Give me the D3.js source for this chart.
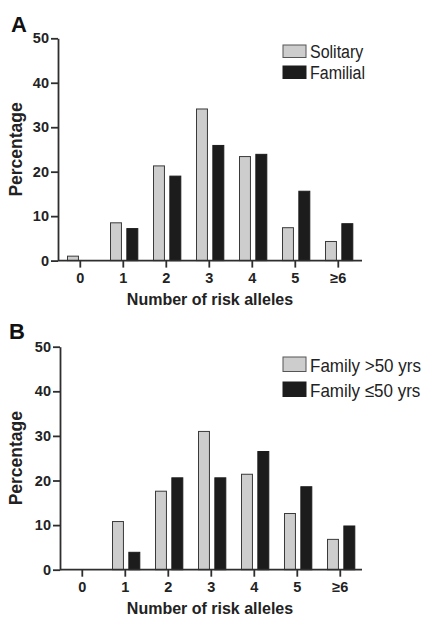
<!DOCTYPE html>
<html>
<head>
<meta charset="utf-8">
<script src="https://cdn.jsdelivr.net/npm/d3@7"></script>
<style>
  body { margin: 0; background: #fff; }
  svg { font-family: "Liberation Sans", Arial, Helvetica, sans-serif; }
</style>
</head>
<body>
<div id="vis"></div>
<script>
/********************************************************************
Datos
*********************************************************************/
const categories = ["0", "1", "2", "3", "4", "5", "\u22656"];
const yTicks = [0, 10, 20, 30, 40, 50];

// Panel A
const seriesA = ["Solitary", "Familial"];
const solitary = [1.0, 8.5, 21.3, 34.1, 23.4, 7.4, 4.3];
const familial = [0, 7.2, 19.0, 25.9, 23.9, 15.6, 8.3];

// Panel B
const seriesB = ["Family >50 yrs", "Family \u226450 yrs"];
const familyOver50 = [0, 10.8, 17.6, 31.0, 21.4, 12.6, 6.8];
const familyUnder50 = [0, 3.9, 20.6, 20.6, 26.5, 18.6, 9.8];

/********************************************************************
Constantes de tamaño
*********************************************************************/
const WIDTH = 423;
const HEIGHT = 618;
const colors = ["#cdcdcd", "#1c1c1c"];
const axisColor = "#2e2e2e";

const svg = d3.select("#vis")
    .append("svg")
    .attr("width", WIDTH)
    .attr("height", HEIGHT);

/********************************************************************
Funciones
*********************************************************************/
function drawPanel(cfg) {
    const g = svg.append("g");

    const y = d3.scaleLinear()
        .domain([0, 50])
        .range([cfg.bottom, cfg.top]);

    const x0 = d3.scaleBand()
        .domain(categories)
        .range([cfg.left + 0.8, cfg.left + 0.8 + 301]);

    const x1 = d3.scaleBand()
        .domain(cfg.series)
        .range([-12.8, 14.5])
        .paddingInner(0.33);

    // barras
    const rows = categories.map((c, i) => ({
        cat: c,
        vals: cfg.series.map((s, j) => ({ key: s, idx: j, value: cfg.values[j][i] }))
    }));

    g.selectAll(".cat")
        .data(rows)
        .enter()
        .append("g")
        .attr("transform", d => `translate(${x0(d.cat) + x0.bandwidth() / 2},0)`)
        .selectAll("rect")
        .data(d => d.vals.filter(v => v.value > 0))
        .enter()
        .append("rect")
        .attr("x", d => x1(d.key))
        .attr("width", x1.bandwidth())
        .attr("y", d => y(d.value))
        .attr("height", d => y(0) - y(d.value))
        .attr("fill", d => colors[d.idx])
        .attr("stroke", d => d.idx === 0 ? "#3a3a3a" : "#1c1c1c")
        .attr("stroke-width", 1);

    // eje y
    const yAxis = g.append("g")
        .attr("transform", `translate(${cfg.left},0)`)
        .call(d3.axisLeft(y).tickValues(yTicks).tickSize(7).tickSizeOuter(0).tickPadding(2));

    // eje x
    const xAxis = g.append("g")
        .attr("transform", `translate(0,${cfg.bottom})`)
        .call(d3.axisBottom(x0).tickSize(7).tickSizeOuter(0).tickPadding(5));
    xAxis.select(".domain").remove();
    xAxis.append("line")
        .attr("x1", cfg.left)
        .attr("x2", 362)
        .attr("y1", 0)
        .attr("y2", 0)
        .attr("stroke", axisColor)
        .attr("stroke-width", 1.8);

    [yAxis, xAxis].forEach(a => {
        a.selectAll("path, line").attr("stroke", axisColor).attr("stroke-width", 1.8);
        a.selectAll("text")
            .attr("fill", "#222")
            .style("font-size", "14.5px")
            .style("font-weight", "bold");
    });

    // títulos de ejes
    g.append("text")
        .attr("x", 210)
        .attr("y", cfg.bottom + 44.5)
        .attr("text-anchor", "middle")
        .attr("fill", "#222")
        .style("font-size", "16px")
        .style("font-weight", "bold")
        .text("Number of risk alleles");

    g.append("text")
        .attr("transform", `translate(22,${(cfg.top + cfg.bottom) / 2}) rotate(-90)`)
        .attr("text-anchor", "middle")
        .attr("fill", "#222")
        .style("font-size", "17.5px")
        .style("font-weight", "bold")
        .text("Percentage");

    // letra del panel
    g.append("text")
        .attr("x", cfg.letterX)
        .attr("y", cfg.letterY)
        .attr("fill", "#111")
        .style("font-size", "22px")
        .style("font-weight", "bold")
        .text(cfg.letter);

    // leyenda
    const legend = g.append("g")
        .attr("transform", `translate(283,${cfg.legendTop})`);
    const items = legend.selectAll(".item")
        .data(cfg.series)
        .enter()
        .append("g")
        .attr("transform", (d, i) => `translate(0,${i * cfg.legendStep})`);
    items.append("rect")
        .attr("width", 23)
        .attr("height", cfg.boxH)
        .attr("fill", (d, i) => colors[i])
        .attr("stroke", (d, i) => i === 0 ? "#555" : "#1c1c1c");
    items.append("text")
        .attr("transform", `translate(27,${cfg.boxH}) scale(1,1.1)`)
        .attr("fill", "#222")
        .style("font-size", cfg.legendFont)
        .text(d => d);
}

/********************************************************************
Main
*********************************************************************/
drawPanel({
    letter: "A", letterX: 11, letterY: 32,
    top: 38.3, bottom: 260.6, left: 58,
    series: seriesA, values: [solitary, familial],
    legendTop: 45, legendStep: 21, boxH: 12.5, legendFont: "16px"
});

drawPanel({
    letter: "B", letterX: 9, letterY: 339,
    top: 346.7, bottom: 569.7, left: 60,
    series: seriesB, values: [familyOver50, familyUnder50],
    legendTop: 357, legendStep: 25, boxH: 14.5, legendFont: "17px"
});
</script>
</body>
</html>
